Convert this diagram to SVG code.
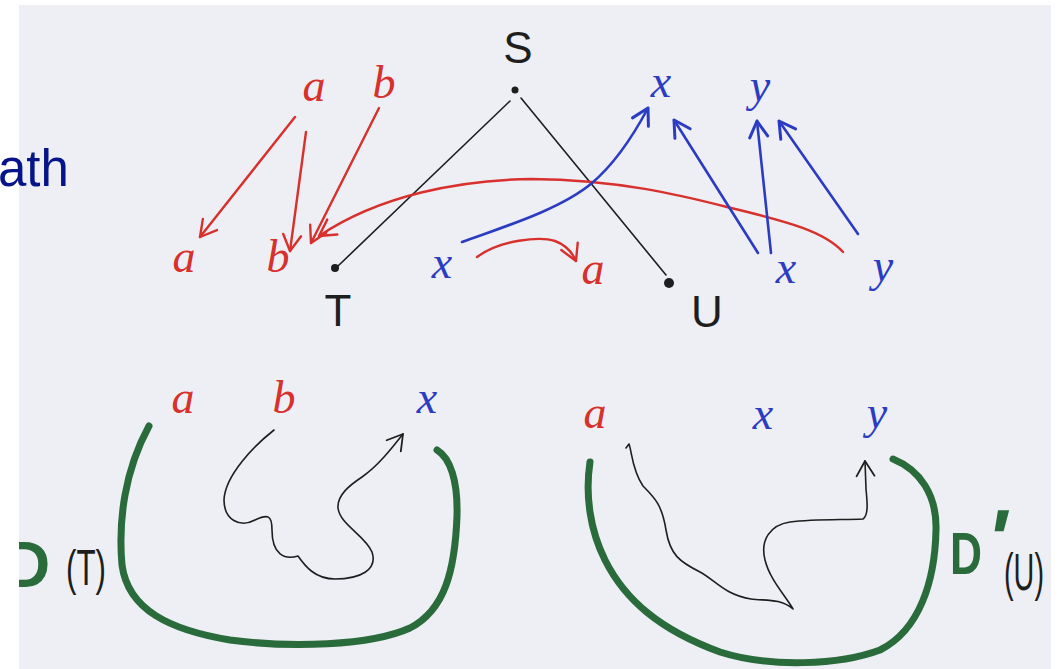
<svg xmlns="http://www.w3.org/2000/svg" width="1062" height="669" viewBox="0 0 1062 669">
<style>
.red{stroke:#d8302c;fill:none;stroke-width:2.4;stroke-linecap:round;stroke-linejoin:round}
.blue{stroke:#2b3cc2;fill:none;stroke-width:2.6;stroke-linecap:round;stroke-linejoin:round}
.blk{stroke:#1e1e1e;fill:none;stroke-width:1.6;stroke-linecap:round;stroke-linejoin:round}
.grn{stroke:#2a6b3c;fill:none;stroke-width:7;stroke-linecap:round}
.hw{font-family:"Liberation Serif",serif;font-style:italic;font-size:46px;text-anchor:middle}
.cap{font-family:"Liberation Sans",sans-serif;font-size:44px;fill:#1e1e1e;text-anchor:middle}
.r{fill:#d8302c}.b{fill:#2b3cc2}
.dg{font-family:"Liberation Sans",sans-serif;font-weight:bold;fill:#2a6b3c}
</style>
<defs>
<marker id="ar" markerUnits="userSpaceOnUse" viewBox="-18 -12 20 24" refX="0" refY="0" markerWidth="20" markerHeight="24" orient="auto"><path d="M-16,-9 L0,0 L-16,9" fill="none" stroke="#d8302c" stroke-width="2.4" stroke-linecap="round" stroke-linejoin="round"/></marker>
<marker id="ab" markerUnits="userSpaceOnUse" viewBox="-18 -12 20 24" refX="0" refY="0" markerWidth="20" markerHeight="24" orient="auto"><path d="M-16,-9 L0,0 L-16,9" fill="none" stroke="#2b3cc2" stroke-width="3" stroke-linecap="round" stroke-linejoin="round"/></marker>
<marker id="ak" markerUnits="userSpaceOnUse" viewBox="-18 -12 20 24" refX="0" refY="0" markerWidth="20" markerHeight="24" orient="auto"><path d="M-15,-9 L0,0 L-15,9" fill="none" stroke="#1e1e1e" stroke-width="1.8" stroke-linecap="round" stroke-linejoin="round"/></marker>
<clipPath id="scan"><rect x="19" y="5" width="1032" height="664"/></clipPath>
</defs>
<rect width="1062" height="669" fill="#ffffff"/>
<rect x="19" y="5" width="1032" height="664" fill="#edeff5"/>
<text x="-2" y="186" font-family="Liberation Sans,Arial,sans-serif" font-size="51" fill="#06148a">ath</text>

<g id="connectors">
<line class="blk" x1="510" y1="101" x2="338" y2="266"/>
<line class="blk" x1="521" y1="98" x2="666" y2="275"/>
<path class="red" d="M295,117 L200,237" marker-end="url(#ar)"/>
<path class="red" d="M306,132 L290,251" marker-end="url(#ar)"/>
<path class="red" d="M379,108 L311,243" marker-end="url(#ar)"/>
<path class="red" d="M843,252 C 825,232 790,222 727,207 C 680,195 620,180 531,179 C 460,180 380,195 319,236" marker-end="url(#ar)"/>
<path class="red" d="M477,257 C 500,240 540,236 555,241 C 566,245 572,252 576,261" marker-end="url(#ar)"/>
<path class="blue" d="M462,242 C 500,228 560,210 592,183 C 612,166 632,138 648,108" marker-end="url(#ab)"/>
<path class="blue" d="M758,253 L674,120" marker-end="url(#ab)"/>
<path class="blue" d="M771,253 L757,121" marker-end="url(#ab)"/>
<path class="blue" d="M858,234 L779,121" marker-end="url(#ab)"/>
</g>

<g id="S"><circle cx="515" cy="90" r="3.5" fill="#1e1e1e"/><text class="cap" x="518" y="63">S</text></g>
<g id="T"><circle cx="335" cy="268" r="4" fill="#1e1e1e"/><text class="cap" x="338" y="326">T</text></g>
<g id="U"><circle cx="669" cy="283" r="5" fill="#1e1e1e"/><text class="cap" x="707" y="327">U</text></g>

<g id="top-labels">
<text class="hw r" x="314" y="101">a</text>
<text class="hw r" x="384" y="98">b</text>
<text class="hw r" x="184" y="272">a</text>
<text class="hw r" x="278" y="272">b</text>
<text class="hw b" x="442" y="278">x</text>
<text class="hw r" x="593" y="284">a</text>
<text class="hw b" x="661" y="97">x</text>
<text class="hw b" x="760" y="101">y</text>
<text class="hw b" x="786" y="283">x</text>
<text class="hw b" x="883" y="281">y</text>
</g>

<g id="DT">
<path class="grn" d="M149,426 C 125,470 118,520 122,565 C 128,610 170,630 230,640 C 290,648 370,646 410,628 C 445,610 455,570 457,516 C 458,480 450,458 437,450"/>
<path class="blk" d="M274,430 C 255,445 225,475 224,500 C 224,520 240,528 255,520 C 268,514 272,515 272,530 C 272,555 285,560 298,556 C 305,566 315,579 335,579 C 360,579 378,570 372,552 C 365,535 340,525 338,508 C 337,495 350,485 362,477 C 378,466 392,448 403,434" marker-end="url(#ak)"/>
<text class="hw r" x="183" y="413">a</text>
<text class="hw r" x="284" y="413">b</text>
<text class="hw b" x="427" y="413">x</text>
<text class="dg" x="4" y="587" font-size="64" clip-path="url(#scan)">D</text>
<text x="66" y="585" font-family="Liberation Sans,sans-serif" font-size="50" fill="#1e1e1e" textLength="40" lengthAdjust="spacingAndGlyphs">(T)</text>
</g>

<g id="DU">
<path class="grn" d="M590,462 C 585,495 590,530 605,560 C 625,600 660,630 720,652 C 770,668 840,665 880,650 C 920,630 935,580 936,530 C 937,495 920,470 893,459"/>
<path class="blk" d="M626,448 L629,444 C 632,452 632,470 643,486 C 655,498 662,505 666,530 C 670,555 680,562 700,572 C 715,580 725,595 751,599 C 765,601 780,598 793,609 C 785,595 770,580 765,560 C 760,540 770,525 790,522 C 815,519 845,520 863,519 C 869,515 867,500 866,489 L865,461" marker-end="url(#ak)"/>
<text class="hw r" x="595" y="428">a</text>
<text class="hw b" x="763" y="429">x</text>
<text class="hw b" x="877" y="428">y</text>
<text class="dg" x="950" y="574" font-size="60" textLength="32" lengthAdjust="spacingAndGlyphs">D</text>
<text class="dg" x="982" y="568" font-size="84" transform="skewX(-12) translate(120,0)">'</text>
<text x="1004" y="590" font-family="Liberation Sans,sans-serif" font-size="52" fill="#1e1e1e" textLength="40" lengthAdjust="spacingAndGlyphs">(U)</text>
</g>
</svg>
